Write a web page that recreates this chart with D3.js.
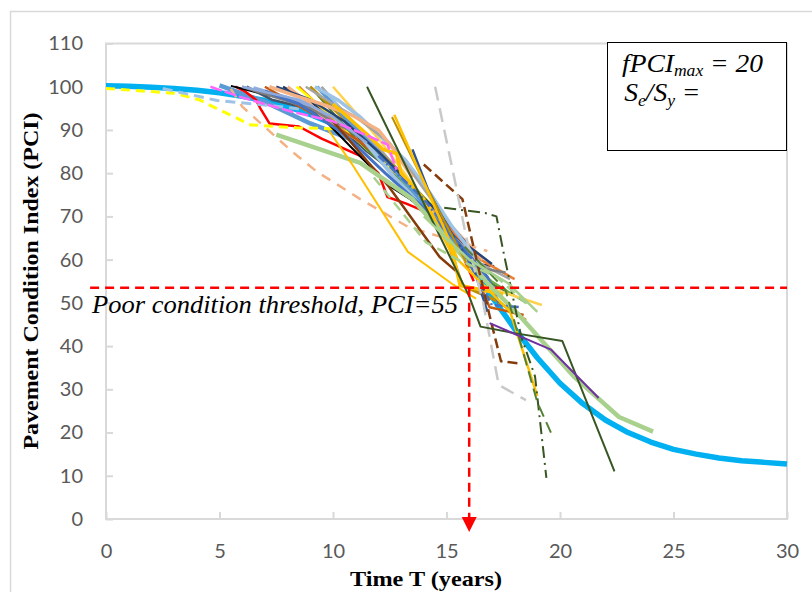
<!DOCTYPE html>
<html>
<head>
<meta charset='utf-8'>
<title>PCI deterioration</title>
<script src='https://cdn.jsdelivr.net/npm/d3@7/dist/d3.min.js'></script>
<style>body{margin:0;background:#fff}</style>
</head>
<body>
<svg width='812' height='592'></svg>
<script>
// tick labels
const xTicks = [0, 5, 10, 15, 20, 25, 30]
const yTicks = [0, 10, 20, 30, 40, 50, 60, 70, 80, 90, 100, 110]

// model curve (thick blue), PCI read at each year
const modelYears = [0, 1, 2, 3, 4, 5, 6, 7, 8, 9, 10, 11, 12, 13, 14, 15, 16, 17, 18, 19, 20, 21, 22, 23, 24, 25, 26, 27, 28, 29, 30]
const modelPCI = [100.2, 100.1, 99.9, 99.6, 99.2, 98.6, 97.8, 96.8, 95.4, 93.6, 91.4, 88.5, 84.5, 79.5, 73.5, 66.6, 59.1, 51.4, 44, 37.3, 31.4, 26.7, 22.9, 20, 17.8, 16.1, 15, 14.1, 13.5, 13.1, 12.7]

// observed sections, [year, PCI]
const sections = [
  [[5, 100.3], [7, 96.5], [9, 91.5], [11.2, 87], [13, 80], [14.5, 71], [16, 60], [17.2, 53]],
  [[5.7, 100], [6.1, 99], [6.6, 97], [6.8, 95], [7.2, 91.5], [8.5, 90.8], [9.5, 88], [11.2, 84], [12, 80], [12.4, 74.5], [13.2, 73], [14.8, 69.5], [15.5, 63.5], [16.2, 55]],
  [[0, 99.6], [3, 98.5], [4.1, 97], [4.7, 95.4], [5.9, 92.4], [6.3, 91.2], [8.4, 90.5], [10, 90.3], [10.8, 89]],
  [[2.5, 99.6], [4.9, 96.8], [5.9, 96.3], [7.5, 95.5], [9, 94.5]],
  [[5.5, 100.2], [7.1, 98.1], [8.5, 96.5], [9.5, 93], [10.8, 86], [12.5, 77], [13.4, 74], [15, 67.5], [16.2, 60]],
  [[5.5, 99.5], [6, 95.4], [8.2, 85], [9.3, 80.3], [10, 78], [11.2, 74], [13.3, 67.6], [16.8, 62]],
  [[6.2, 100], [7.3, 97], [8.5, 95.5], [10, 92], [11.5, 85], [13, 79], [14.5, 71], [15.8, 62]],
  [[6.5, 99.8], [8, 97.5], [9.2, 95], [10.5, 91], [12, 84], [13.8, 74], [15.3, 65], [16.6, 56]],
  [[7.8, 100], [9, 96.5], [10.3, 92], [11.8, 85], [13, 79], [13.6, 74.5], [15, 68.5], [16.3, 59], [17.1, 58.5]],
  [[8.5, 100], [9.5, 95], [10.5, 90], [12, 84], [13.8, 75], [15, 68], [16.5, 60], [18, 55.5]],
  [[8, 100], [9, 96], [9.7, 92], [11, 88], [13, 79], [15, 69], [16.6, 60]],
  [[9.5, 100], [10.5, 94], [12, 86], [13.5, 77], [15, 67], [16.5, 59], [17.8, 55.5]],
  [[8.4, 100], [10, 93], [11.5, 85.5], [13.3, 78], [14.5, 72]],
  [[9, 100], [11, 88], [13, 78], [15, 65], [16.5, 56], [17.8, 52]],
  [[9.7, 97], [12, 85], [14, 72], [15.5, 62], [17, 55], [18.5, 50]],
  [[9, 100], [11, 90], [13, 80], [14.8, 68], [15.7, 54], [17.2, 50.5], [18.5, 46]],
  [[7, 100], [9, 94], [11, 88], [13, 80], [14.5, 70], [16, 60], [16.9, 49], [18.4, 47.2]],
  [[10, 100], [12, 88], [14, 74], [15.5, 62], [16.6, 54], [19.2, 49.5]],
  [[6, 100], [7.5, 97.5], [9, 95], [11, 89], [13, 80], [15, 66], [16.5, 58], [17.6, 57]],
  [[9.9, 97.5], [11, 90], [12.7, 79], [14, 72], [15.5, 63], [16.8, 55]],
  [[9.3, 100], [10.5, 93], [12, 85], [13.5, 76], [15.2, 65], [16.3, 58]],
  [[7, 99], [8.5, 96], [10.5, 89], [12.3, 80], [14, 72], [15.5, 64], [16.8, 56], [17.3, 50]],
  [[7.5, 100], [9, 97], [10.5, 92], [12, 85], [13.5, 77], [15, 69], [16, 63], [17, 59]],
  [[9.2, 100], [10.2, 97], [11.2, 93], [12, 89], [13.2, 83], [14.2, 76], [15.2, 68], [16.5, 59]],
  [[8.8, 100], [10, 96], [11, 93], [12.5, 87], [13.5, 80], [14.6, 72]],
  [[7.2, 100], [8.3, 98], [9.5, 96], [10.8, 93.5], [12, 90], [12.6, 86], [13.5, 79]],
  [[10, 92], [12.4, 77.3], [14.7, 60.6], [15.5, 57]],
  [[10, 96], [11.5, 89], [12.2, 85.5], [12.8, 84.5], [13, 80], [14, 74], [15.3, 61], [15.6, 54], [17.5, 52]],
  [[6, 100], [8.5, 97], [10, 93], [11.5, 87]],
  [[4.6, 100], [6, 97.5], [8.2, 94.2], [10, 92], [11.6, 88.5], [12.4, 86.6], [12.8, 80.8]],
  [[7.5, 88.9], [11.2, 82.4], [13.5, 74], [15.5, 62], [17, 53.5], [18.1, 47.7], [20.6, 33], [22.6, 23.6], [24.1, 20.2]],
  [[13.5, 85.5], [14.2, 76], [15, 68], [16.2, 58], [16.8, 48]],
  [[12, 84], [14, 74], [15.5, 64], [17, 49.5], [18.3, 49]],
  [[12.6, 93], [14, 78], [15.2, 66], [16, 58]],
  [[12.7, 93.5], [15.5, 60], [17.8, 48], [19, 28.5]],
  [[9.8, 90], [10.8, 82.4], [13.3, 61.8], [15.3, 54.2], [16.3, 51]],
  [[14, 82], [15.7, 74], [16.9, 47], [17.4, 36.5], [18.2, 36]],
  [[14.5, 100], [15.3, 80], [15.9, 64.5], [16.6, 50.5], [17.3, 31], [18.5, 27.5]],
  [[14.9, 72], [16.7, 70.8], [17.2, 70], [17.5, 62], [18.3, 42], [18.9, 33], [19.4, 9.5]],
  [[15.8, 63], [17.6, 53], [18.3, 40], [19, 27], [19.6, 20]],
  [[11.5, 100], [16, 51.5], [16.5, 44.5], [18, 43], [20.1, 41.2], [22.4, 11]],
  [[16.9, 45.3], [19.6, 39.2], [21.7, 28]],
  [[11.8, 79], [14.1, 64], [15.5, 60], [17.2, 56], [18.7, 49]],
  [[14, 70], [16, 60], [17.7, 54.6], [19, 47.9]]
]

// threshold
const thresholdPCI = 53.5
const thresholdYear = 16

// line style per section (colour, width, dash)
const sectionStyle = [
  ['#5B9BD5', 4.5, null], ['#FF0000', 2.5, null], ['#FFFF00', 3, '9,6'], ['#9DC3E6', 3, '10,6'],
  ['#000000', 2, null], ['#F4B183', 2.5, '10,8'], ['#44546A', 2.5, null],
  ['#8FAADC', 3, null], ['#1F3864', 2.5, null], ['#ED7D31', 2.5, null], ['#F4B183', 3, null],
  ['#A5A5A5', 2.5, null], ['#FFFF00', 2.5, null], ['#548235', 2, null], ['#70AD47', 2, null],
  ['#BF9000', 3, null], ['#C55A11', 2.5, null], ['#FFD24D', 2.5, null], ['#7F7F7F', 2.5, null],
  ['#9DC3E6', 4, null], ['#5B9BD5', 3.5, null], ['#4472C4', 3, null], ['#264478', 2.5, null],
  ['#9DC3E6', 3.5, null], ['#A5A5A5', 2.5, null], ['#F4B183', 3.5, null], ['#843C0C', 2.5, null],
  ['#FFC000', 3.5, null], ['#8FAADC', 2.5, null], ['#FF66FF', 2.5, '12,3'],
  ['#A9D18E', 4.5, null], ['#2F5597', 2.5, null], ['#4472C4', 2.5, '8,3,2,3'], ['#BF9000', 2, null],
  ['#FFC000', 2.5, null], ['#FFC000', 2, null], ['#843C0C', 2.5, '10,5'], ['#C9C9C9', 2.5, '14,8'],
  ['#375623', 2, '12,5,2,5'], ['#548235', 2, '12,6'], ['#375623', 2, null], ['#7030A0', 2, null],
  ['#A9D18E', 2.5, '10,6'], ['#A9D18E', 2.5, null]
]

const svg = d3.select('svg')
const x = d3.scaleLinear().domain([0, 30]).range([106, 787])
const y = d3.scaleLinear().domain([0, 110]).range([519, 43.5])

// outer chart border
svg.append('rect')
  .attr('x', 10.5).attr('y', 11.5).attr('width', 900).attr('height', 900)
  .attr('fill', 'none').attr('stroke', '#D9D9D9').attr('stroke-width', 1.5)

// axes
const xAxis = svg.append('g').attr('transform', `translate(0,${y(0)})`)
  .call(d3.axisBottom(x).tickValues(xTicks).tickSizeInner(-7).tickSizeOuter(0).tickPadding(25))
const yAxis = svg.append('g').attr('transform', `translate(${x(0)},0)`)
  .call(d3.axisLeft(y).tickValues(yTicks).tickSizeInner(-7).tickSizeOuter(0).tickPadding(23))
for (const g of [xAxis, yAxis]) {
  g.select('.domain').remove()
  g.selectAll('line').attr('stroke', '#D9D9D9').attr('stroke-width', 2)
  g.selectAll('text').attr('fill', '#595959').style('font-family', 'Lato').style('font-size', '20px')
}

// plot frame
svg.append('rect')
  .attr('x', x(0)).attr('y', y(110)).attr('width', x(30) - x(0)).attr('height', y(0) - y(110))
  .attr('fill', 'none').attr('stroke', '#D9D9D9').attr('stroke-width', 2)

const line = d3.line().x(d => x(d[0])).y(d => y(d[1]))
const lines = svg.append('g').attr('fill', 'none').attr('stroke-linejoin', 'round')

// model first, sections over it
lines.append('path')
  .attr('d', line(modelYears.map((t, i) => [t, modelPCI[i]])))
  .attr('stroke', '#00B0F0').attr('stroke-width', 5.5)
sections.forEach((pts, i) => {
  const [c, w, dash] = sectionStyle[i]
  lines.append('path').attr('d', line(pts))
    .attr('stroke', c).attr('stroke-width', w)
    .attr('stroke-dasharray', dash)
})

// threshold lines and arrow
svg.append('line')
  .attr('x1', x(-0.7)).attr('x2', x(30)).attr('y1', y(thresholdPCI)).attr('y2', y(thresholdPCI))
  .attr('stroke', '#FF0000').attr('stroke-width', 2.5).attr('stroke-dasharray', '9,6')
svg.append('line')
  .attr('x1', x(thresholdYear)).attr('x2', x(thresholdYear)).attr('y1', y(thresholdPCI)).attr('y2', y(0) - 2)
  .attr('stroke', '#FF0000').attr('stroke-width', 2.5).attr('stroke-dasharray', '9,6')
svg.append('path')
  .attr('d', `M${x(thresholdYear) - 7.5},${y(0) - 2} L${x(thresholdYear) + 7.5},${y(0) - 2} L${x(thresholdYear)},${y(0) + 13} Z`)
  .attr('fill', '#FF0000')

// threshold label
svg.append('text')
  .attr('x', 92).attr('y', 313)
  .attr('textLength', 366).attr('lengthAdjust', 'spacingAndGlyphs')
  .style('font-family', 'Liberation Serif').style('font-style', 'italic').style('font-size', '25px')
  .text('Poor condition threshold, PCI=55')

// parameter box
svg.append('rect')
  .attr('x', 607.5).attr('y', 42.5).attr('width', 179).attr('height', 108)
  .attr('fill', '#fff').attr('stroke', '#000').attr('stroke-width', 1)
const box = svg.append('g').attr('transform', 'translate(622,0) scale(1.1,1)')
  .style('font-family', 'Liberation Serif').style('font-style', 'italic')
const t1 = box.append('text').attr('x', 0).attr('y', 72).style('font-size', '25px')
t1.append('tspan').text('fPCI')
t1.append('tspan').attr('dy', 4).style('font-size', '16px').text('max')
t1.append('tspan').attr('dy', -4).text(' = 20')
const t2 = box.append('text').attr('x', 2).attr('y', 101).style('font-size', '25px')
t2.append('tspan').text('S')
t2.append('tspan').attr('dy', 5).style('font-size', '16px').text('e')
t2.append('tspan').attr('dy', -5).text('/S')
t2.append('tspan').attr('dy', 5).style('font-size', '16px').text('y')
t2.append('tspan').attr('dy', -5).text(' =')

// axis titles
svg.append('text')
  .attr('x', 426).attr('y', 586).attr('text-anchor', 'middle')
  .attr('textLength', 152).attr('lengthAdjust', 'spacingAndGlyphs')
  .style('font-family', 'Liberation Serif').style('font-weight', 'bold').style('font-size', '22px')
  .text('Time T (years)')
svg.append('text')
  .attr('transform', 'translate(38,281) rotate(-90)').attr('text-anchor', 'middle')
  .attr('textLength', 337).attr('lengthAdjust', 'spacingAndGlyphs')
  .style('font-family', 'Liberation Serif').style('font-weight', 'bold').style('font-size', '22px')
  .text('Pavement Condition Index (PCI)')
</script>
</body>
</html>
